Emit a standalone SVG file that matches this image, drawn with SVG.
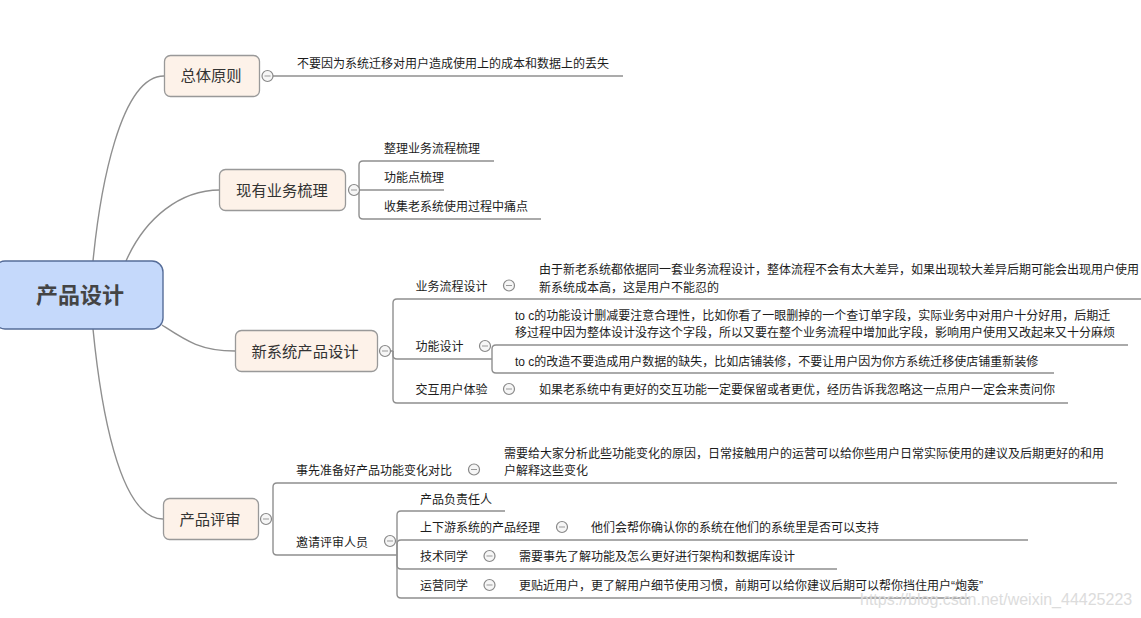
<svg xmlns="http://www.w3.org/2000/svg" width="1141" height="618" viewBox="0 0 1141 618">
<style>
text{font-family:"Liberation Sans","Noto Sans CJK SC",sans-serif;fill:#1c1c1c;font-size:12px}
.m{font-size:15.300px;fill:#333;text-anchor:middle}
.r{font-size:22px;font-weight:bold;fill:#444;text-anchor:middle}
.b{fill:#fdf2e9;stroke:#999;stroke-width:1.300}
.c{fill:none;stroke:#8f8f8f;stroke-width:1.400}
.t{fill:#f6f6f6;stroke:#888;stroke-width:1.200}
.d{stroke:#999;stroke-width:1}
.w{font-size:16px;fill:#dcdcdc}
</style>
<defs><g id="tg"><circle class="t" r="5.500"/><path class="d" d="M-3 0H3"/></g></defs>
<g id="connectors">
<path class="c" d="M93 261C100 190 120 76 164 76"/>
<path class="c" d="M126 261C145 218 180 190 220 190"/>
<path class="c" d="M162 325C185 340 200 351 235 351"/>
<path class="c" d="M93 329C100 400 118 519 163 519"/>
<path class="c" d="M273 76H623"/>
<path class="c" d="M359 190V165Q359 161 363 161H494"/>
<path class="c" d="M359 190H444"/>
<path class="c" d="M359 190V215Q359 219 363 219H541"/>
<path class="c" d="M391 351H393V303Q393 299 397 299H1141"/>
<path class="c" d="M393 351V355Q393 359 397 359H492"/>
<path class="c" d="M393 351V399Q393 403 397 403H1068"/>
<path class="c" d="M492 359V349Q492 345 496 345H1128"/>
<path class="c" d="M492 359V369Q492 373 496 373H1054"/>
<path class="c" d="M273 519V487Q273 483 277 483H1117"/>
<path class="c" d="M273 519V551Q273 555 277 555H397"/>
<path class="c" d="M397 555V515Q397 511 401 511H505"/>
<path class="c" d="M397 555V544Q397 540 401 540H1028"/>
<path class="c" d="M397 555V565Q397 569 401 569H837"/>
<path class="c" d="M397 555V594Q397 598 401 598H970"/>
</g>
<g id="root"><rect x="-6" y="261" width="169" height="68" rx="11" fill="#c5d9fb" stroke="#566d99" stroke-width="1.400"/><text class="r" x="80" y="303">产品设计</text></g>
<g id="n1"><rect class="b" x="164.500" y="55.500" width="95" height="41" rx="6"/><text class="m" x="211" y="81">总体原则</text><use href="#tg" x="267.500" y="76"/><text x="297" y="68">不要因为系统迁移对用户造成使用上的成本和数据上的丢失</text></g>
<g id="n2"><rect class="b" x="219.500" y="169.500" width="126" height="41" rx="6"/><text class="m" x="282" y="196">现有业务梳理</text><use href="#tg" x="354" y="190"/><text x="384" y="153">整理业务流程梳理</text><text x="384" y="182">功能点梳理</text><text x="384" y="211">收集老系统使用过程中痛点</text></g>
<g id="n3"><rect class="b" x="235.500" y="330.500" width="142" height="41" rx="6"/><text class="m" x="305" y="357">新系统产品设计</text><use href="#tg" x="385" y="351"/>
<text x="415.500" y="291">业务流程设计</text><use href="#tg" x="509" y="285.500"/>
<text x="539" y="274">由于新老系统都依据同一套业务流程设计，整体流程不会有太大差异，如果出现较大差异后期可能会出现用户使用</text><text x="539" y="292">新系统成本高，这是用户不能忍的</text>
<text x="415.500" y="351">功能设计</text><use href="#tg" x="485" y="346"/>
<text x="515" y="320">to c的功能设计删减要注意合理性，比如你看了一眼删掉的一个查订单字段，实际业务中对用户十分好用，后期迁</text><text x="515" y="337">移过程中因为整体设计没存这个字段，所以又要在整个业务流程中增加此字段，影响用户使用又改起来又十分麻烦</text><text x="515" y="366">to c的改造不要造成用户数据的缺失，比如店铺装修，不要让用户因为你方系统迁移使店铺重新装修</text>
<text x="415.500" y="394">交互用户体验</text><use href="#tg" x="509" y="389"/><text x="539" y="394">如果老系统中有更好的交互功能一定要保留或者更优，经历告诉我忽略这一点用户一定会来责问你</text></g>
<g id="n4"><rect class="b" x="163.500" y="498.500" width="95" height="41" rx="6"/><text class="m" x="210" y="525">产品评审</text><use href="#tg" x="266" y="519"/>
<text x="296" y="475">事先准备好产品功能变化对比</text><use href="#tg" x="474" y="469.500"/>
<text x="504" y="458">需要给大家分析此些功能变化的原因，日常接触用户的运营可以给你些用户日常实际使用的建议及后期更好的和用</text><text x="504" y="475">户解释这些变化</text>
<text x="296" y="547">邀请评审人员</text><use href="#tg" x="390" y="541"/>
<text x="420" y="504">产品负责任人</text>
<text x="420" y="532">上下游系统的产品经理</text><use href="#tg" x="562" y="527"/><text x="591" y="532">他们会帮你确认你的系统在他们的系统里是否可以支持</text>
<text x="420" y="561">技术同学</text><use href="#tg" x="489.500" y="556"/><text x="519" y="561">需要事先了解功能及怎么更好进行架构和数据库设计</text>
<text x="420" y="590">运营同学</text><use href="#tg" x="489.500" y="585"/><text x="519" y="590">更贴近用户，更了解用户细节使用习惯，前期可以给你建议后期可以帮你挡住用户“炮轰”</text></g>
<text class="w" x="860" y="605">https://blog.csdn.net/weixin_44425223</text>
</svg>
